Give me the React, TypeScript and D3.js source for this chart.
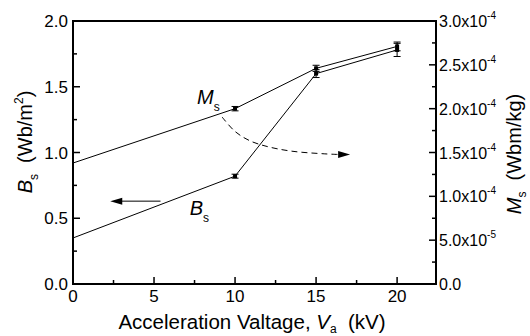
import * as d3 from 'd3';

// chart data
const voltages = [0, 10, 15, 20]; // kV
const bsValues = [0.35, 0.82, 1.6, 1.78]; // Wb/m^2
const bsErrors = [0, 0.015, 0.03, 0.05];
const msValues = [1.38e-4, 2.0e-4, 2.46e-4, 2.71e-4]; // Wbm/kg
const msErrors = [0, 2.5e-6, 3.5e-6, 5e-6];

// tick values and labels
const xTicks = [0, 5, 10, 15, 20];
const xMinorTicks = [2.5, 7.5, 12.5, 17.5];
const leftTicks = [0, 0.5, 1.0, 1.5, 2.0];
const leftMinorTicks = [0.25, 0.75, 1.25, 1.75];
const rightTicks = [0, 5e-5, 1e-4, 1.5e-4, 2e-4, 2.5e-4, 3e-4];
const rightMinorTicks = [2.5e-5, 7.5e-5, 1.25e-4, 1.75e-4, 2.25e-4, 2.75e-4];
const rightTickLabels = [
  ['0.0', ''], ['5.0x10', '-5'], ['1.0x10', '-4'], ['1.5x10', '-4'],
  ['2.0x10', '-4'], ['2.5x10', '-4'], ['3.0x10', '-4'],
];

// annotations (in kV / left-axis units)
const msArrowCurve: [number, number][] = [
  [9.2, 1.27], [10.0, 1.16], [10.9, 1.09], [12.0, 1.045], [13.5, 1.01], [15.5, 0.99], [16.4, 0.985],
];
const msArrowTip: [number, number] = [17.1, 0.985];
const bsArrow: [number, number][] = [[5.4, 0.63], [2.3, 0.63]];
const msLabelPos: [number, number] = [7.65, 1.37];
const bsLabelPos: [number, number] = [7.2, 0.525];

const font = '"Liberation Sans", Arial, sans-serif';

export default function App() {
  const x = d3.scaleLinear().domain([0, 22.4]).range([73, 436]);
  const yL = d3.scaleLinear().domain([0, 2]).range([284, 21]);
  const yR = d3.scaleLinear().domain([0, 3e-4]).range([284, 21]);
  const [x0, x1] = x.range();
  const [y0, y1] = yL.range();

  const bsData = voltages.map((v, i) => ({ v, y: yL(bsValues[i]), lo: yL(bsValues[i] - bsErrors[i]), hi: yL(bsValues[i] + bsErrors[i]) }));
  const msData = voltages.map((v, i) => ({ v, y: yR(msValues[i]), lo: yR(msValues[i] - msErrors[i]), hi: yR(msValues[i] + msErrors[i]) }));

  const line = d3.line<{ v: number; y: number }>().x(d => x(d.v)).y(d => d.y);
  const curve = d3.line<[number, number]>().x(d => x(d[0])).y(d => yL(d[1])).curve(d3.curveCatmullRom);

  const tip = [x(msArrowTip[0]), yL(msArrowTip[1])];
  const bsTip = [x(bsArrow[1][0]), yL(bsArrow[1][1])];

  const series = (data: typeof bsData, key: string) => (
    <g key={key}>
      <path d={line(data) || ''} fill="none" stroke="#000" strokeWidth={1} />
      {data.filter(d => d.v > 0).map((d, i) => (
        <g key={i}>
          <line x1={x(d.v)} x2={x(d.v)} y1={d.lo} y2={d.hi} stroke="#000" strokeWidth={1} />
          <line x1={x(d.v) - 3.5} x2={x(d.v) + 3.5} y1={d.lo} y2={d.lo} stroke="#000" strokeWidth={1} />
          <line x1={x(d.v) - 3.5} x2={x(d.v) + 3.5} y1={d.hi} y2={d.hi} stroke="#000" strokeWidth={1} />
          <rect x={x(d.v) - 2} y={d.y - 2} width={4} height={4} fill="#000" />
        </g>
      ))}
    </g>
  );

  const pre = { whiteSpace: 'pre' as const };

  return (
    <svg width={530} height={336} style={{ position: 'absolute', left: 0, top: 0, background: '#fff' }} fontFamily={font}>
      {series(bsData, 'bs')}
      {series(msData, 'ms')}

      {/* dashed arrow from Ms label */}
      <path d={curve(msArrowCurve) || ''} fill="none" stroke="#000" strokeWidth={1} strokeDasharray="6,4" />
      <path d={`M${tip[0]},${tip[1]} L${tip[0] - 12},${tip[1] - 3.5} L${tip[0] - 12},${tip[1] + 3.5} Z`} fill="#000" />
      {/* solid arrow pointing to left axis */}
      <line x1={x(bsArrow[0][0])} y1={yL(bsArrow[0][1])} x2={bsTip[0] + 10} y2={bsTip[1]} stroke="#000" strokeWidth={1} />
      <path d={`M${bsTip[0]},${bsTip[1]} L${bsTip[0] + 12},${bsTip[1] - 3.5} L${bsTip[0] + 12},${bsTip[1] + 3.5} Z`} fill="#000" />

      <text x={x(msLabelPos[0])} y={yL(msLabelPos[1])} fontSize={20}>
        <tspan fontStyle="italic">M</tspan>
        <tspan fontSize={12} dy={7}>s</tspan>
      </text>
      <text x={x(bsLabelPos[0])} y={yL(bsLabelPos[1])} fontSize={20}>
        <tspan fontStyle="italic">B</tspan>
        <tspan fontSize={12} dy={7}>s</tspan>
      </text>

      {/* frame */}
      <rect x={x0} y={y1} width={x1 - x0} height={y0 - y1} fill="none" stroke="#000" strokeWidth={2} />

      {/* bottom axis */}
      {xTicks.map(t => (
        <g key={t}>
          <line x1={x(t)} x2={x(t)} y1={y0} y2={y0 - 7} stroke="#000" strokeWidth={1.5} />
          <text x={x(t)} y={302} fontSize={17} textAnchor="middle">{t}</text>
        </g>
      ))}
      {xMinorTicks.map(t => (
        <line key={t} x1={x(t)} x2={x(t)} y1={y0} y2={y0 - 4} stroke="#000" strokeWidth={1.5} />
      ))}

      {/* left axis */}
      {leftTicks.map(t => (
        <g key={t}>
          <line x1={x0} x2={x0 + 7} y1={yL(t)} y2={yL(t)} stroke="#000" strokeWidth={1.5} />
          <text x={68} y={yL(t) + 6} fontSize={17} textAnchor="end">{t.toFixed(1)}</text>
        </g>
      ))}
      {leftMinorTicks.map(t => (
        <line key={t} x1={x0} x2={x0 + 4} y1={yL(t)} y2={yL(t)} stroke="#000" strokeWidth={1.5} />
      ))}

      {/* right axis */}
      {rightTicks.map((t, i) => (
        <g key={t}>
          <line x1={x1} x2={x1 - 7} y1={yR(t)} y2={yR(t)} stroke="#000" strokeWidth={1.5} />
          <text x={439} y={yR(t) + 6} fontSize={16}>
            {rightTickLabels[i][0]}
            {rightTickLabels[i][1] && <tspan fontSize={10} dy={-8}>{rightTickLabels[i][1]}</tspan>}
          </text>
        </g>
      ))}
      {rightMinorTicks.map(t => (
        <line key={t} x1={x1} x2={x1 - 4} y1={yR(t)} y2={yR(t)} stroke="#000" strokeWidth={1.5} />
      ))}

      {/* axis titles */}
      <text x={252} y={329} fontSize={20.5} textAnchor="middle" style={pre}>
        <tspan>{'Acceleration Valtage, '}</tspan>
        <tspan fontStyle="italic">V</tspan>
        <tspan fontSize={12} dy={4}>a</tspan>
        <tspan dy={-4}>{'  (kV)'}</tspan>
      </text>
      <text transform="translate(32,142) rotate(-90)" fontSize={20} textAnchor="middle" style={pre}>
        <tspan fontStyle="italic">B</tspan>
        <tspan fontSize={12} dy={6}>s</tspan>
        <tspan dy={-6}>{'  (Wb/m'}</tspan>
        <tspan fontSize={12} dy={-9}>2</tspan>
        <tspan dy={9}>)</tspan>
      </text>
      <text transform="translate(521,154) rotate(-90)" fontSize={20} textAnchor="middle" style={pre}>
        <tspan fontStyle="italic">M</tspan>
        <tspan fontSize={12} dy={5}>s</tspan>
        <tspan dy={-5}>{'  (Wbm/kg)'}</tspan>
      </text>
    </svg>
  );
}
